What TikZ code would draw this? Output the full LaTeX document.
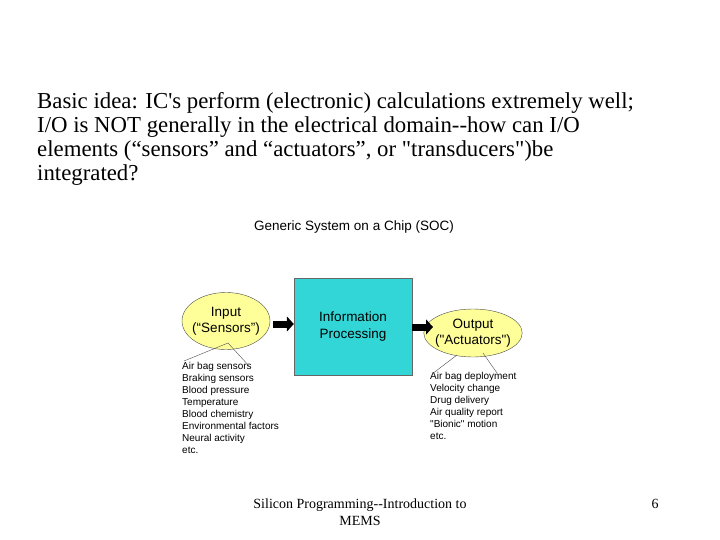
\documentclass[tikz,border=0pt]{standalone}
\usepackage{fontspec}
\newfontfamily\tms{Liberation Serif}
\newfontfamily\arial{Liberation Sans}
\usetikzlibrary{shapes.geometric,arrows.meta}
\definecolor{ovalfill}{RGB}{255,255,153}
\definecolor{procfill}{RGB}{51,214,214}
\begin{document}
\begin{tikzpicture}[x=1pt,y=-1pt,
  body/.style={anchor=base west,inner sep=0,font=\tms\fontsize{22.8}{24}\selectfont},
  oval/.style={ellipse,draw=black!70,fill=ovalfill,thin,inner sep=-3pt,font=\arial\fontsize{13.5}{16}\selectfont,align=center},
  lst/.style={anchor=north west,inner sep=0,align=left,font=\arial\fontsize{10}{12}\selectfont},
  fat/.style={-{Triangle[length=7pt,width=15pt]},line width=7pt},
  lead/.style={black!70,thin}]
\useasboundingbox (0,0) rectangle (720,540);
\node[body] (l1) at (37,109) {Basic idea: IC's perform (electronic) calculations extremely well;};
\node[body] (l2) at (37,133) {I/O is NOT generally in the electrical domain--how can I/O};
\node[body] (l3) at (37,157) {elements (“sensors” and “actuators”, or "transducers")be};
\node[body] (l4) at (37,181) {integrated?};
\node[font=\arial\fontsize{13.5}{16}\selectfont] (title) at (354,227) {Generic System on a Chip (SOC)};
\node[oval,minimum width=88pt,minimum height=57pt] (in) at (226,321) {Input\\(“Sensors”)};
\node[draw=black!60,fill=procfill,minimum width=118pt,minimum height=97pt,align=center,font=\arial\fontsize{13.5}{17}\selectfont] (proc) at (353,326.5) {Information\\Processing};
\node[oval,minimum width=82pt,minimum height=48pt] (out) at (473,333) {Output\\("Actuators")};
\coordinate (a1s) at (273,324);
\coordinate (a2s) at (412,327);
\draw[fat] (a1s) -- (a1s-|proc.west);
\draw[fat] (a2s) -- (433,327);
\node[lst] (inl) at (182,362) {Air bag sensors\\Braking sensors\\Blood pressure\\Temperature\\Blood chemistry\\Environmental factors\\Neural activity\\etc.};
\node[lst] (outl) at (430,372) {Air bag deployment\\Velocity change\\Drug delivery\\Air quality report\\"Bionic" motion\\etc.};
\coordinate (c1) at (228,343);
\draw[lead] (inl.north west) ++(2,-1) -- (c1) -- (250,367);
\draw[lead] (432,374) -- (457,355);
\draw[lead] (483,353) -- (497,373);
\node[align=center,font=\tms\fontsize{14}{17}\selectfont] (foot) at (360,512) {Silicon Programming--Introduction to\\MEMS};
\node[font=\tms\fontsize{14}{14}\selectfont] (pg) at (655,504) {6};
\end{tikzpicture}
\end{document}
